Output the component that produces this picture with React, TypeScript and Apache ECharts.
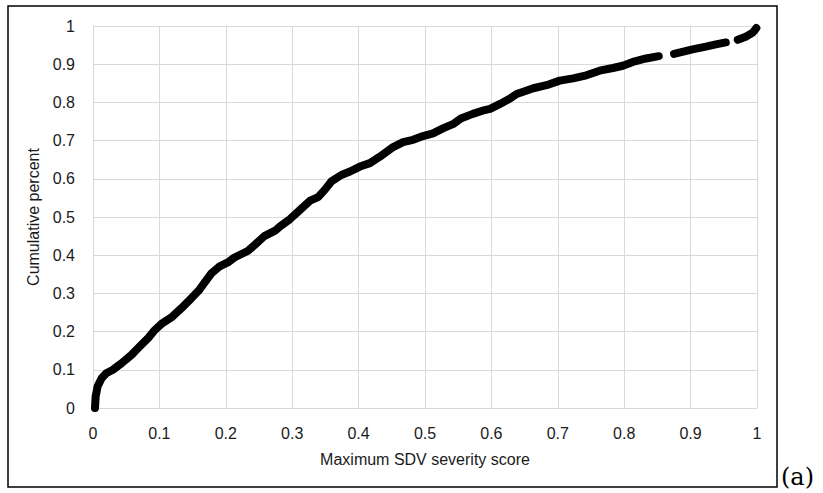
import { useEffect, useRef } from "react";
import * as echarts from "echarts";

const xTitle = "Maximum SDV severity score";
const yTitle = "Cumulative percent";
const panelLabel = "(a)";

// [score, cumulative]; the curve is split where it shows gaps
const curveMain: [number, number][] = [
  [0.003, 0.0], [0.004, 0.03], [0.007, 0.057], [0.013, 0.078], [0.02, 0.091],
  [0.03, 0.1], [0.043, 0.117], [0.058, 0.139], [0.068, 0.157], [0.083, 0.183],
  [0.093, 0.204], [0.103, 0.22], [0.118, 0.237], [0.133, 0.261], [0.148, 0.287],
  [0.16, 0.309], [0.168, 0.328], [0.178, 0.352], [0.19, 0.37], [0.203, 0.381],
  [0.213, 0.394], [0.233, 0.411], [0.243, 0.426], [0.258, 0.45], [0.275, 0.465],
  [0.282, 0.476], [0.297, 0.495], [0.312, 0.519], [0.327, 0.543], [0.339, 0.552],
  [0.349, 0.571], [0.359, 0.593], [0.374, 0.61], [0.387, 0.619], [0.402, 0.632],
  [0.417, 0.641], [0.432, 0.658], [0.452, 0.683], [0.467, 0.696], [0.482, 0.702],
  [0.497, 0.712], [0.512, 0.719], [0.527, 0.732], [0.542, 0.743], [0.554, 0.758],
  [0.572, 0.77], [0.59, 0.78], [0.598, 0.783], [0.613, 0.796], [0.628, 0.81],
  [0.638, 0.822], [0.648, 0.828], [0.663, 0.837], [0.683, 0.845], [0.703, 0.857],
  [0.723, 0.863], [0.743, 0.871], [0.763, 0.883], [0.783, 0.89], [0.798, 0.896],
  [0.813, 0.906], [0.833, 0.915], [0.852, 0.921],
];
const curveMid: [number, number][] = [
  [0.875, 0.927], [0.903, 0.939], [0.923, 0.946], [0.938, 0.952], [0.953, 0.957],
];
const curveEnd: [number, number][] = [
  [0.971, 0.964], [0.983, 0.972], [0.993, 0.982], [0.997, 0.99], [0.999, 0.995],
];

export default function App() {
  const ref = useRef<HTMLDivElement>(null);
  useEffect(() => {
    const chart = echarts.init(ref.current!, null, { renderer: "svg" });
    const font = "'Liberation Sans', Arial, sans-serif";
    const textColor = "#1a1a1a";
    const grid = { show: true, lineStyle: { color: "#d9d9d9", width: 1 } };
    const seg = (data: [number, number][]) => ({
      type: "line",
      data,
      symbol: "none",
      showSymbol: false,
      silent: true,
      lineStyle: { color: "#000", width: 8, cap: "round", join: "round" },
    });
    chart.setOption({
      animation: false,
      backgroundColor: "#ffffff",
      grid: { left: 93, right: 66, top: 26, bottom: 85, containLabel: false, outerBoundsMode: "none" },
      xAxis: {
        type: "value",
        min: 0,
        max: 1,
        interval: 0.1,
        name: xTitle,
        nameLocation: "middle",
        nameGap: 43,
        nameTextStyle: { color: textColor, fontSize: 16, fontFamily: font },
        axisLine: { show: false },
        axisTick: { show: false },
        axisLabel: { margin: 17, color: textColor, fontSize: 16, fontFamily: font },
        splitLine: grid,
      },
      yAxis: {
        type: "value",
        min: 0,
        max: 1,
        interval: 0.1,
        name: yTitle,
        nameLocation: "middle",
        nameGap: 46,
        nameTextStyle: { color: textColor, fontSize: 16, fontFamily: font },
        axisLine: { show: false },
        axisTick: { show: false },
        axisLabel: { margin: 18, color: textColor, fontSize: 16, fontFamily: font },
        splitLine: grid,
      },
      series: [seg(curveMain), seg(curveMid), seg(curveEnd)],
      graphic: [
        {
          type: "rect",
          shape: { x: 8, y: 6, width: 769, height: 481 },
          style: { fill: "none", stroke: "#000", lineWidth: 1.5 },
          silent: true,
        },
        {
          type: "text",
          x: 781,
          y: 477,
          style: {
            text: panelLabel,
            fontSize: 24,
            fontFamily: "'DejaVu Serif', serif",
            fill: "#000",
            align: "left",
            verticalAlign: "middle",
          },
          silent: true,
        },
      ],
    });
    return () => chart.dispose();
  }, []);
  return <div ref={ref} style={{ position: "fixed", left: 0, top: 0, width: 823, height: 493 }} />;
}
